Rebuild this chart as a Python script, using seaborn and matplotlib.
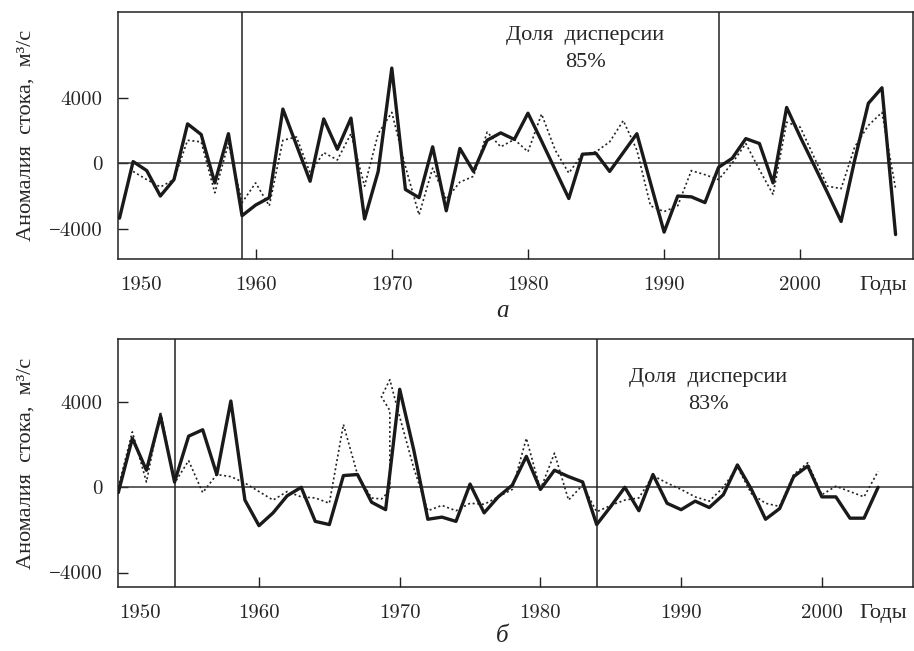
import numpy as np
import pandas as pd
import matplotlib
import matplotlib.pyplot as plt
import matplotlib.transforms as mtransforms
import seaborn as sns

# panel a: years 1950-2007
years_a = list(range(1950, 2008))
observed_a = [-3350, 100, -450, -2000, -1000, 2400, 1750, -1200, 1800, -3200,
              -2550, -2100, 3300, 1100, -1100, 2700, 850, 2750, -3400, -500,
              5800, -1600, -2100, 1000, -2900, 900, -500, 1400, 1850, 1450,
              3050, 1350, -400, -2150, 550, 600, -500, 650, 1800, -1200,
              -4200, -2000, -2050, -2400, -250, 300, 1500, 1200, -1200, 3400,
              1600, -100, -1800, -3550, 200, 3650, 4600, -4350]
years_a_model = list(range(1951, 2008))
model_a = [-500, -1000, -1450, -1000, 1400, 1300, -1800, 1200, -2400,
           -1200, -2600, 1400, 1600, -600, 650, 200, 1800, -1400, 1800,
           3100, -200, -3150, -300, -2200, -1150, -800, 1900, 1000, 1450,
           700, 3000, 800, -600, 550, 700, 1300, 2600, 800, -2600,
           -2950, -2600, -450, -700, -1000, 0, 1200, -400, -1900, 2500,
           2200, 400, -1400, -1550, 1000, 2300, 3100, -1550]
breaks_a = [1959, 1994]

# panel b: years 1950-2004
years_b = list(range(1950, 2005))
observed_b = [-250, 2300, 800, 3350, 250, 2400, 2700, 600, 4050, -600,
              -1800, -1200, -400, 0, -1600, -1750, 550, 600, -700, -1050,
              4600, 1750, -1500, -1400, -1600, 150, -1200, -450, 100, 1450,
              -100, 800, 500, 250, -1750, -900, 0, -1100, 600, -750,
              -1050, -650, -950, -350, 1050, -100, -1500, -1000, 500, 1000,
              -450, -450, -1450, -1450, 0]
years_b_model = [1950, 1951, 1952, 1953, 1954, 1955, 1956, 1957, 1958, 1959,
                 1960, 1961, 1962, 1963, 1964, 1965, 1966, 1967, 1968,
                 1968.7, 1969.3, 1969.3, 1968.7, 1969.3,
                 1970, 1971, 1972, 1973, 1974, 1975, 1976, 1977, 1978, 1979,
                 1980, 1981, 1982, 1983, 1984, 1985, 1986, 1987, 1988, 1989,
                 1990, 1991, 1992, 1993, 1994, 1995, 1996, 1997, 1998, 1999,
                 2000, 2001, 2002, 2003, 2004]
model_b = [0, 2600, 250, 3550, 200, 1250, -250, 600, 500, 200,
           -200, -600, -200, -450, -500, -750, 2950, 600, -500,
           -550, -150, 3600, 4250, 5050,
           3300, 900, -1100, -850, -1100, -750, -800, -450, -100, 2300,
           -100, 1600, -600, 100, -1150, -850, -600, -500, 550, 200,
           -100, -450, -650, 0, 950, -300, -750, -900, 600, 1150,
           -350, 50, -200, -450, 750]
breaks_b = [1954, 1984]

sns.set_theme(style="white")
plt.rcParams['font.family'] = ['cmr10', 'Liberation Serif']
plt.rcParams['mathtext.fontset'] = 'cm'
plt.rcParams['axes.unicode_minus'] = True

fig = plt.figure(figsize=(9.14, 6.51), dpi=100)
ax1 = fig.add_axes([118/914, 1 - 259/651, 795/914, 247/651])
ax2 = fig.add_axes([118/914, 1 - 587/651, 795/914, 248/651])

panels = [
    (ax1, years_a, observed_a, years_a_model, model_a, breaks_a,
     (1949.89, 2008.28), (-5840, 9220), 'Доля  дисперсии\n85%', (585, 49), 'а', 311),
    (ax2, years_b, observed_b, years_b_model, model_b, breaks_b,
     (1949.98, 2006.48), (-4680, 6960), 'Доля  дисперсии\n83%', (708, 391), 'б', 636),
]

fs = 15
serif = ['Liberation Serif']
for ax, yrs, obs, yrs_m, mod, brk, xl, yl, note, note_xy, tag, tag_y in panels:
    ax.axhline(0, color='#333333', lw=1.1, zorder=1)
    for b in brk:
        ax.axvline(b, color='#222222', lw=1.1, zorder=1)
    sns.lineplot(x=yrs_m, y=mod, ax=ax, color='#222222', lw=1.2,
                 linestyle=(0, (1.2, 1.6)), sort=False, estimator=None, zorder=2)
    sns.lineplot(x=yrs, y=obs, ax=ax, color='#1a1a1a', lw=2.4,
                 sort=False, estimator=None, zorder=3)
    ax.set_xlim(*xl)
    ax.set_ylim(*yl)
    ax.set_xticks([1950, 1960, 1970, 1980, 1990, 2000])
    ax.set_xticklabels(['1950', '1960', '1970', '1980', '1990', '2000'], fontsize=fs)
    ax.set_yticks([-4000, 0, 4000])
    ax.set_yticklabels(['\u22124000', '0', '4000'], fontsize=fs)
    ax.tick_params(axis='both', direction='in', length=7, width=1, color='#222222',
                   bottom=True, left=True, top=False, right=False)
    ax.tick_params(axis='x', pad=12)
    ax.tick_params(axis='y', pad=11)
    # first year label is set off from the frame
    lab = ax.get_xticklabels()[0]
    lab.set_transform(lab.get_transform() + mtransforms.ScaledTranslation(0.215, 0, fig.dpi_scale_trans))
    ax.xaxis.get_major_ticks()[0].tick1line.set_visible(False)
    for s in ax.spines.values():
        s.set_color('#222222')
        s.set_linewidth(1.1)
    ax.set_xlabel('')
    ax.set_ylabel('Аномалия  стока,  м³/с', fontsize=16, family=serif, labelpad=10)
    ax.annotate('Годы', xy=(0.962, 0), xycoords='axes fraction',
                xytext=(0, -12), textcoords='offset points',
                ha='center', va='top', fontsize=16, family=serif)
    fig.text(note_xy[0] / 914, 1 - note_xy[1] / 651, note, ha='center', va='center',
             fontsize=16, family=serif, linespacing=1.55)
    fig.text(502 / 914, 1 - tag_y / 651, tag, ha='center', va='center',
             fontsize=18, style='italic', family=serif)

fig.savefig('out.png', dpi=100)
